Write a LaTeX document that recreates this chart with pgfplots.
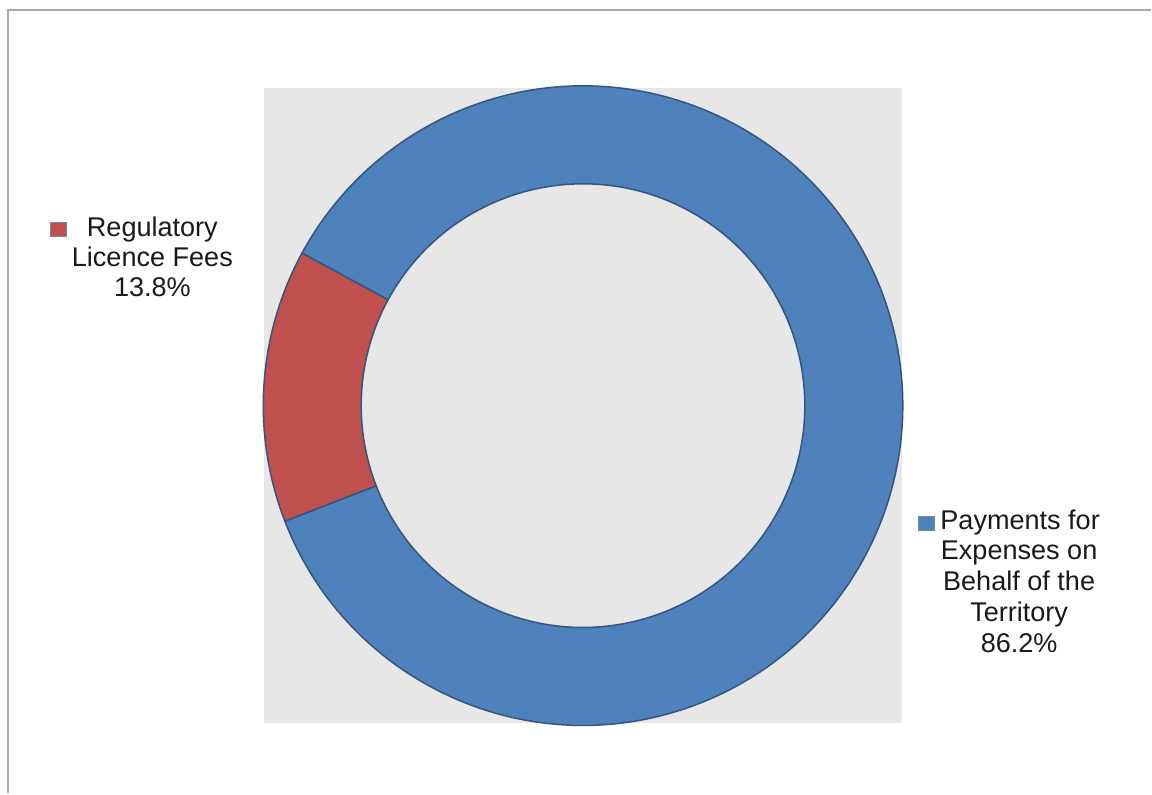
\documentclass[border=0pt]{standalone}
\usepackage{pgfplots}
\pgfplotsset{compat=1.18}
\usepackage{pgfplotstable}
\usepackage{fontspec}
\setmainfont{Liberation Sans}
\definecolor{blueseg}{HTML}{4F81BD}
\definecolor{redseg}{HTML}{C0504D}
\definecolor{segedge}{HTML}{35567F}
\definecolor{bggray}{HTML}{E7E7E7}
\definecolor{framegray}{HTML}{A8A8A8}
\definecolor{txt}{HTML}{1A1A1A}

\pgfplotstableread{
label value
Payments 86.2
Regulatory 13.8
}\donutdata

\begin{document}
\begin{tikzpicture}
\pgfplotstablegetelem{0}{value}\of\donutdata \let\vPay\pgfplotsretval
\pgfplotstablegetelem{1}{value}\of\donutdata \let\vReg\pgfplotsretval
\pgfmathsetmacro\startang{151.5}
\pgfmathsetmacro\midang{\startang+3.6*\vReg}
\pgfmathsetmacro\endang{\midang+3.6*\vPay}
\def\unit{0.013888889}
\def\cx{583.5}
\def\cy{388}
\def\Ro{320}
\def\Ri{222}
\newcommand\ringseg[3]{%
  \filldraw[fill=#1, draw=segedge, line width=0.6pt]
    (axis cs:{\cx+\Ro*cos(#2)},{\cy+\Ro*sin(#2)})
    arc[start angle=#2, end angle=#3, radius={\Ro*\unit cm}]
    -- (axis cs:{\cx+\Ri*cos(#3)},{\cy+\Ri*sin(#3)})
    arc[start angle=#3, end angle=#2, radius={\Ri*\unit cm}] -- cycle;}
\begin{axis}[x=\unit cm, y=\unit cm, xmin=0, xmax=1152, ymin=0, ymax=794,
  hide axis, clip=false, scale only axis]
  \fill[white] (axis cs:0,0) rectangle (axis cs:1152,794);
  \draw[framegray, line width=0.8pt] (axis cs:8,0) -- (axis cs:8,784) -- (axis cs:1152,784);
  \fill[bggray] (axis cs:264,70) rectangle (axis cs:903,706);
  \ringseg{blueseg}{\midang}{\endang}
  \ringseg{redseg}{\startang}{\midang}
  % legend keys
  \filldraw[fill=redseg, draw=segedge!70, line width=0.3pt] (axis cs:50,557) rectangle (axis cs:66,571);
  \filldraw[fill=blueseg, draw=segedge!70, line width=0.3pt] (axis cs:919,263) rectangle (axis cs:935,277);
  % labels
  \begin{scope}[every node/.style={anchor=base, inner sep=0pt, text=txt, font=\fontsize{10.7}{12}\selectfont}]
    \node at (axis cs:152.5,557.3) {Regulatory};
    \node at (axis cs:152.5,527.3) {Licence Fees};
    \node at (axis cs:152.5,497.3) {13.8\%};
    \node at (axis cs:1021,264) {Payments for};
    \node at (axis cs:1020,234) {Expenses on};
    \node at (axis cs:1020,202.5) {Behalf of the};
    \node at (axis cs:1020,171.5) {Territory};
    \node at (axis cs:1020,141) {86.2\%};
  \end{scope}
\end{axis}
\end{tikzpicture}
\end{document}
